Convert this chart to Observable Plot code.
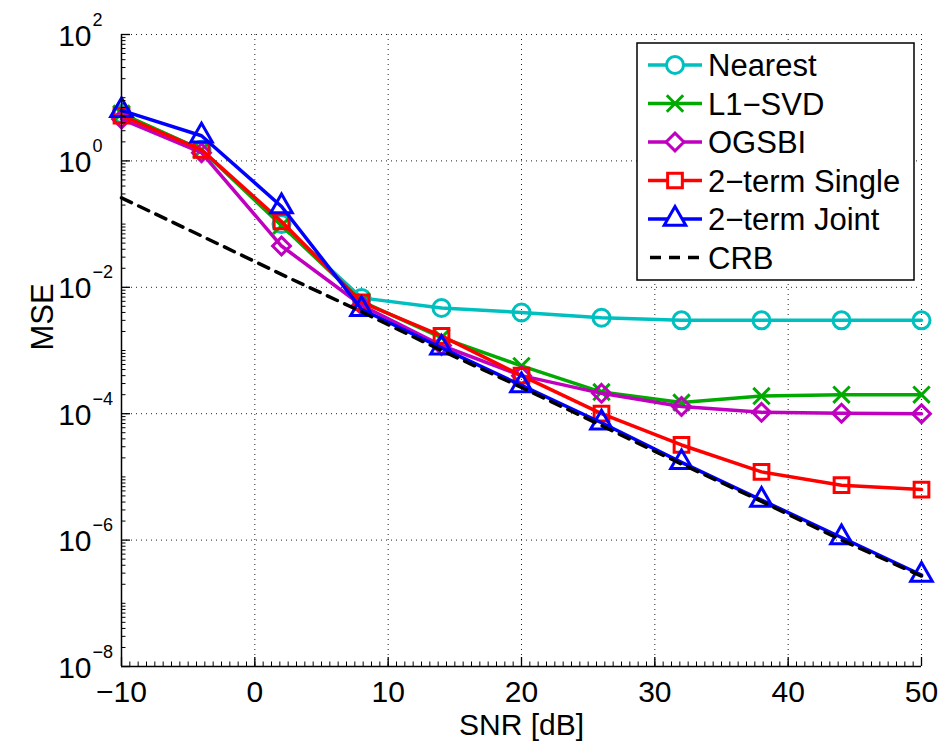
<!DOCTYPE html>
<html><head><meta charset="utf-8">
<script src="https://cdn.jsdelivr.net/npm/d3@7"></script>
<script src="https://cdn.jsdelivr.net/npm/@observablehq/plot@0.6"></script>
<style>body{margin:0;background:#fff} svg{display:block}</style>
</head><body><div id="chart"></div>
<script>
// ---- data ----
const snr = [-10, -4, 2, 8, 14, 20, 26, 32, 38, 44, 50];
const nearest = [5.5, 1.5, 0.10, 0.0068, 0.0047, 0.0040, 0.0033, 0.0030, 0.0030, 0.0030, 0.0030];
const l1svd   = [5.6, 1.5, 0.095, 0.0060, 0.0016, 0.00057, 0.00022, 0.00015, 0.00019, 0.00020, 0.00020];
const ogsbi   = [4.6, 1.35, 0.045, 0.0052, 0.0012, 0.00040, 0.00021, 0.00013, 0.000105, 0.000102, 0.000100];
const single  = [5.2, 1.5, 0.11, 0.0058, 0.0017, 0.00040, 0.00010, 0.000032, 0.000012, 0.0000074, 0.0000063];
const joint   = [6.3, 2.5, 0.19, 0.0045, 0.0011, 0.00028, 0.000072, 0.000017, 0.0000043, 0.0000011, 0.00000028];
const crb     = [0.26, 0.065, 0.016, 0.0041, 0.0010, 0.00026, 0.000065, 0.000016, 0.0000041, 0.0000010, 0.00000027];

const seriesNames = ["Nearest", "L1\u2212SVD", "OGSBI", "2\u2212term Single", "2\u2212term Joint", "CRB"];
const seriesValues = [nearest, l1svd, ogsbi, single, joint, crb];
const colors = ["#00BFBF", "#00AA00", "#BF00BF", "#FF0000", "#0000FF", "#000000"];
const symbols = ["circle", "times", "diamond2", "square", "triangle", null];
const symRadius = [8.5, 7.5, 8, 8.3, 8];

const xTicks = [-10, 0, 10, 20, 30, 40, 50];
const xTickLabels = ["\u221210", "0", "10", "20", "30", "40", "50"];
const yTicks = [1e2, 1e0, 1e-2, 1e-4, 1e-6, 1e-8];
const yTickExp = ["2", "0", "\u22122", "\u22124", "\u22126", "\u22128"];

// ---- layout ----
const W = 946, H = 744, mL = 121, mR = 25, mT = 34, mB = 78;
const innerW = W - mL - mR, innerH = H - mT - mB;
const font = "'Liberation Sans', Arial, Helvetica, sans-serif";

const xMinor = d3.range(-10, 50.001, 10 / 16);
const yMinor = [];
for (let e = -8; e < 2; e++) for (let k = 1; k <= 9; k++) { if (k === 1 && e % 2 === 0) continue; yMinor.push(k * Math.pow(10, e)); }

const tables = seriesValues.map(vals => snr.map((x, i) => ({x, y: vals[i]})));

const marks = [];
// grid (dotted)
marks.push(Plot.ruleX(xTicks.slice(1), {x: d => d, stroke: "#222", strokeWidth: 1, strokeDasharray: "1,4"}));
marks.push(Plot.ruleY(yTicks.slice(0, -1), {y: d => d, stroke: "#222", strokeWidth: 1, strokeDasharray: "1,4"}));
// series lines + markers (CRB last, dashed)
for (let s = 0; s < 5; s++) {
  marks.push(Plot.line(tables[s], {x: "x", y: "y", stroke: colors[s], strokeWidth: 3.5, strokeLinejoin: "round"}));
  marks.push(Plot.dot(tables[s], {x: "x", y: "y", symbol: symbols[s], r: symRadius[s], stroke: colors[s], fill: "none", strokeWidth: 3}));
}
marks.push(Plot.line(tables[5], {x: "x", y: "y", stroke: "#000", strokeWidth: 3.5, strokeDasharray: "11,8"}));
// axis lines
marks.push(Plot.ruleX([-10], {x: d => d, stroke: "#000", strokeWidth: 1.5}));
marks.push(Plot.ruleY([1e-8], {y: d => d, stroke: "#000", strokeWidth: 1.5}));
// ticks (inward)
marks.push(Plot.tickX(xTicks, {x: d => d, insetTop: innerH - 9, stroke: "#000", strokeWidth: 1.3}));
marks.push(Plot.tickX(xMinor, {x: d => d, insetTop: innerH - 4.5, stroke: "#000", strokeWidth: 1}));
marks.push(Plot.tickY(yTicks, {y: d => d, insetRight: innerW - 9, stroke: "#000", strokeWidth: 1.3}));
marks.push(Plot.tickY(yMinor, {y: d => d, insetRight: innerW - 4.5, stroke: "#000", strokeWidth: 1}));
// tick labels
marks.push(Plot.text(xTicks, {x: d => d, text: (d, i) => xTickLabels[i], frameAnchor: "bottom", lineAnchor: "bottom", dy: 35, fontSize: 30, fill: "#000"}));
marks.push(Plot.text(yTicks, {y: d => d, text: () => "10", frameAnchor: "left", textAnchor: "end", lineAnchor: "bottom", dx: -30, dy: 11, fontSize: 30, fill: "#000"}));
marks.push(Plot.text(yTicks, {y: d => d, text: (d, i) => yTickExp[i], frameAnchor: "left", textAnchor: "start", lineAnchor: "bottom", dx: -29, dy: -9, fontSize: 18, fill: "#000"}));
// axis labels
marks.push(Plot.text(["SNR [dB]"], {text: d => d, frameAnchor: "bottom", lineAnchor: "bottom", dy: 68, fontSize: 30, fill: "#000"}));
marks.push(Plot.text(["MSE"], {text: d => d, frameAnchor: "left", lineAnchor: "bottom", rotate: -90, dx: -69, fontSize: 31, fill: "#000"}));

const svg = Plot.plot({
  width: W, height: H,
  marginLeft: mL, marginRight: mR, marginTop: mT, marginBottom: mB,
  style: {fontFamily: font, background: "#fff", overflow: "visible"},
  x: {domain: [-10, 50], axis: null},
  y: {type: "log", domain: [1e-8, 1e2], axis: null},
  marks
});
document.getElementById("chart").appendChild(svg);

// ---- legend ----
const symMap = {circle: d3.symbolCircle, times: d3.symbolTimes, diamond2: d3.symbolDiamond2, square: d3.symbolSquare, triangle: d3.symbolTriangle};
const lg = d3.select(svg).append("g").attr("font-family", font).attr("text-anchor", "start");
lg.append("rect").attr("x", 637).attr("y", 43).attr("width", 277).attr("height", 237)
  .attr("fill", "#fff").attr("stroke", "#000").attr("stroke-width", 1.5);
const rowY = [65, 103.5, 142, 180.5, 219, 257.5];
seriesNames.forEach((name, i) => {
  const cy = rowY[i];
  const ln = lg.append("line").attr("x1", 648).attr("x2", 702).attr("y1", cy).attr("y2", cy)
    .attr("stroke", colors[i]).attr("stroke-width", 3.5);
  if (i === 5) ln.attr("stroke-dasharray", "11,8").attr("x1", 650);
  if (symbols[i]) {
    const r = symRadius[i];
    lg.append("path").attr("d", d3.symbol(symMap[symbols[i]], Math.PI * r * r)())
      .attr("transform", `translate(675,${cy})`).attr("fill", "#fff").attr("stroke", colors[i]).attr("stroke-width", 3);
  }
  lg.append("text").attr("x", 708).attr("y", cy + 11).attr("font-size", 31).attr("fill", "#000")
    .attr("text-anchor", "start").text(name);
});
</script>
</body></html>
